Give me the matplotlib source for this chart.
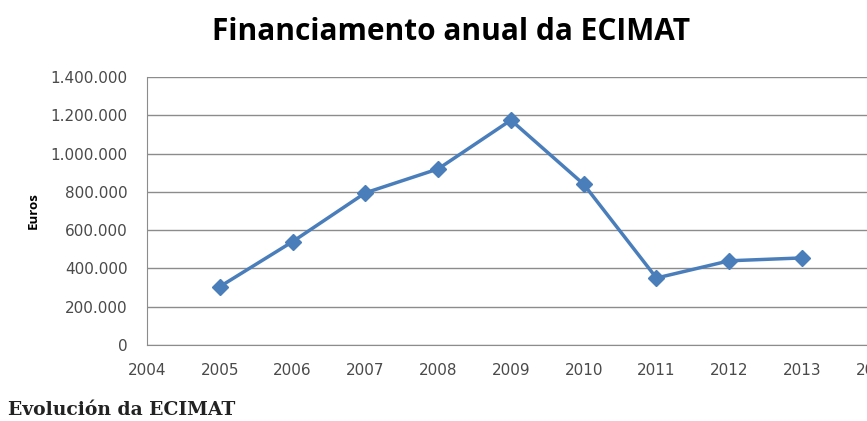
import matplotlib.pyplot as plt
from matplotlib.ticker import FuncFormatter

# Annual funding (euros)
years = [2005, 2006, 2007, 2008, 2009, 2010, 2011, 2012, 2013]
funding = [305000, 540000, 795000, 920000, 1175000, 840000, 350000, 440000, 455000]

fig = plt.figure(figsize=(8.67, 4.21), dpi=100)
ax = fig.add_axes([0.1696, 0.1805, 0.8394, 0.6365])

ax.plot(years, funding, color='#4a7ebb', linewidth=2.5, marker='D',
        markersize=8, clip_on=False, zorder=3)

ax.set_xlim(2004, 2014)
ax.set_ylim(0, 1400000)
ax.set_xticks(range(2004, 2015))
ax.set_yticks(range(0, 1400001, 200000))
ax.yaxis.set_major_formatter(FuncFormatter(lambda v, p: f'{int(v):,}'.replace(',', '.')))

ax.grid(axis='y', color='#8c8c8c', linewidth=1)
ax.set_axisbelow(True)
for s in ['top', 'right']:
    ax.spines[s].set_visible(False)
ax.spines['left'].set_color('#8c8c8c')
ax.spines['bottom'].set_color('#8c8c8c')
ax.tick_params(length=0, labelsize=11, labelcolor='#4a4a4a')
ax.tick_params(axis='y', pad=14)
ax.tick_params(axis='x', pad=13)

ax.set_ylabel('Euros', fontsize=9.5, fontweight='bold', family='Open Sans', labelpad=8)

fig.text(0.52, 0.925, 'Financiamento anual da ECIMAT', ha='center', va='center',
         fontsize=21.5, fontweight='bold', family='Open Sans')
fig.text(0.009, 0.026, 'Evolución da ECIMAT', ha='left', va='center',
         fontsize=13.5, fontweight='bold', family='DejaVu Serif', color='#222222')

fig.savefig('out.png', dpi=100)
